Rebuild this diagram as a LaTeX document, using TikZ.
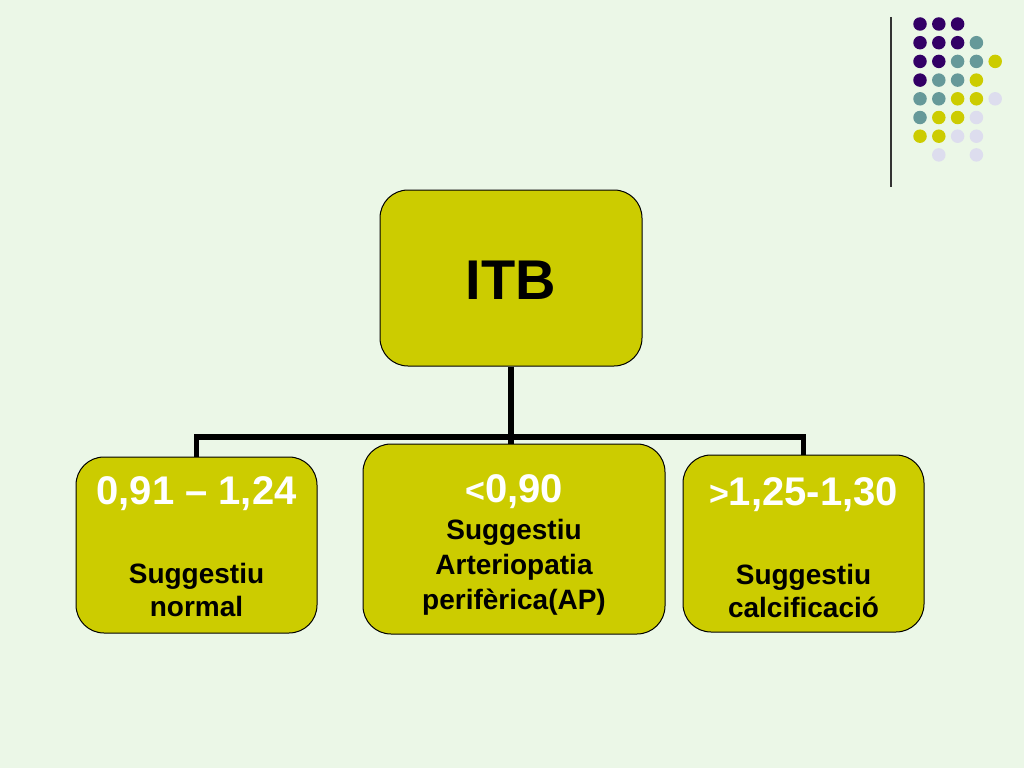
\documentclass[tikz,border=0pt]{standalone}
\usepackage{fontspec}
\setmainfont{Liberation Sans}
\definecolor{bg}{HTML}{EBF7E7}
\definecolor{boxfill}{HTML}{CCCC00}
\definecolor{dpurple}{HTML}{330066}
\definecolor{dteal}{HTML}{669999}
\definecolor{dyellow}{HTML}{CCCC00}
\definecolor{dlav}{HTML}{DDDDEE}
\begin{document}
\begin{tikzpicture}[x=1pt,y=-1pt,
  box/.style={draw=black,line width=1pt,fill=boxfill,rounded corners=28pt,inner sep=0pt},
  titletext/.style={text=white,font=\fontsize{40}{44}\selectfont\bfseries,inner sep=0pt},
  subtext/.style={text=black,font=\fontsize{28}{33}\selectfont\bfseries,align=center,inner sep=0pt},
  conn/.style={line width=5.5pt,draw=black},
  dot/.style={circle,inner sep=0pt,minimum size=13.5pt}]
\fill[bg] (0,0) rectangle (1024,768);
\useasboundingbox (0,0) rectangle (1024,768);
% decoration line
\coordinate (vtop) at (891,17);
\coordinate (vbot) at (891,187);
\draw[line width=1.5pt,black!80] (vtop) -- (vbot);
% dots
\foreach \r/\a/\b/\cc/\d/\e in {1/P/P/P/N/N,2/P/P/P/T/N,3/P/P/T/T/Y,4/P/T/T/Y/N,5/T/T/Y/Y/L,6/T/Y/Y/L/N,7/Y/Y/L/L/N,8/N/L/N/L/N}{
  \foreach \c/\k in {1/\a,2/\b,3/\cc,4/\d,5/\e}{
    \pgfmathsetmacro{\px}{920+18.8*(\c-1)}
    \pgfmathsetmacro{\py}{24+18.7*(\r-1)}
    \if P\k \node[dot,fill=dpurple] (d\r\c) at (\px,\py) {};\fi
    \if T\k \node[dot,fill=dteal] (d\r\c) at (\px,\py) {};\fi
    \if Y\k \node[dot,fill=dyellow] (d\r\c) at (\px,\py) {};\fi
    \if L\k \node[dot,fill=dlav] (d\r\c) at (\px,\py) {};\fi
  }
}
% boxes
\node[box,minimum width=262pt,minimum height=176pt] (itb) at (511,278) {};
\node[font=\fontsize{56}{60}\selectfont\bfseries,inner sep=0pt] (itbt) at (511,280) {ITB};
\node[box,minimum width=241pt,minimum height=176pt] (b1) at (196.5,545) {};
\node[box,minimum width=302pt,minimum height=190pt] (b2) at (514,539) {};
\node[box,minimum width=241pt,minimum height=177pt] (b3) at (803.5,543.5) {};
% connectors
\coordinate (bus) at (511,437);
\draw[conn] (itb.south) -- (itb.south |- b2.north);
\draw[conn,line join=miter] (b1.north) -- (b1.north |- bus) -- (b3.north |- bus) -- (b3.north);
% texts
\node[titletext] (t1) at (196.5,494) {0,91 – 1,24};
\node[subtext] (s1) at (196.5,590) {Suggestiu\\normal};
\node[titletext] (t2) at (514,492) {{\fontsize{34}{40}\selectfont <}0,90};
\node[subtext,font=\fontsize{28}{35}\selectfont\bfseries] (s2) at (514,567) {Suggestiu\\Arteriopatia\\perifèrica(AP)};
\node[titletext] (t3) at (803.5,495) {{\fontsize{34}{40}\selectfont >}1,25-1,30};
\node[subtext] (s3) at (803.5,591) {Suggestiu\\calcificació};
\end{tikzpicture}
\end{document}
